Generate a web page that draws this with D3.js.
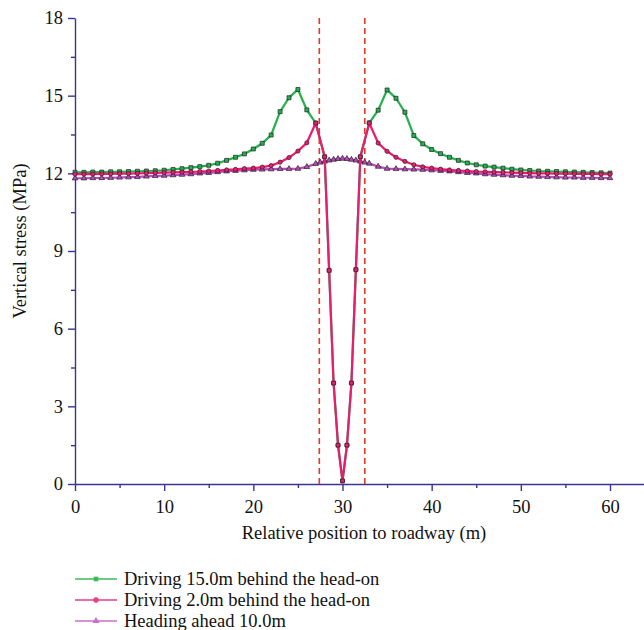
<!DOCTYPE html>
<html lang="en">
<head>
  <meta charset="UTF-8">
  <title>Vertical stress vs relative position</title>
  <script src="https://d3js.org/d3.v7.min.js"></script>
  <style>
    body { margin: 0; background: #fff; }
    svg { font-family: "Liberation Serif", "DejaVu Serif", serif; }
    .axis path, .axis line { stroke: #3b3494; stroke-width: 1.4px; }
    .axis text { font-size: 18.5px; fill: #111; font-family: "Liberation Serif", serif; }
    .title { font-size: 18.5px; fill: #111; }
    .legend text { font-size: 18.5px; fill: #111; }
  </style>
</head>
<body>
  <svg width="644" height="630"></svg>
  <script>
    // positions (m) and vertical stress (MPa)
    const posDriving = [0,1,2,3,4,5,6,7,8,9,10,11,12,13,14,15,16,17,18,19,20,21,22,23,24,25,26,27,28,28.5,29,29.5,30,30.5,31,31.5,32,33,34,35,36,37,38,39,40,41,42,43,44,45,46,47,48,49,50,51,52,53,54,55,56,57,58,59,60];
    const driving15 = [12.04,12.04,12.05,12.05,12.06,12.06,12.07,12.08,12.09,12.10,12.12,12.15,12.18,12.22,12.26,12.31,12.39,12.50,12.62,12.75,12.94,13.16,13.48,14.38,14.92,15.24,14.45,13.94,12.64,8.25,3.90,1.50,0.12,1.50,3.90,8.28,12.64,13.95,14.44,15.22,14.90,14.36,13.46,13.14,12.92,12.76,12.62,12.50,12.40,12.33,12.28,12.24,12.20,12.16,12.13,12.11,12.09,12.08,12.07,12.06,12.05,12.04,12.03,12.02,12.01];
    const driving2 = [11.97,11.97,11.97,11.98,11.98,11.99,11.99,12.00,12.01,12.02,12.03,12.04,12.05,12.06,12.07,12.09,12.11,12.13,12.15,12.18,12.20,12.24,12.30,12.43,12.61,12.86,13.18,13.94,12.64,8.25,3.90,1.50,0.12,1.50,3.90,8.28,12.64,13.94,13.17,12.85,12.62,12.46,12.33,12.25,12.20,12.16,12.13,12.11,12.09,12.07,12.06,12.05,12.04,12.03,12.02,12.01,12.00,12.00,11.99,11.99,11.98,11.98,11.98,11.97,11.97];
    const posHeading = [0,1,2,3,4,5,6,7,8,9,10,11,12,13,14,15,16,17,18,19,20,21,22,23,24,25,26,27,27.5,28,28.5,29,29.5,30,30.5,31,31.5,32,32.5,33,34,35,36,37,38,39,40,41,42,43,44,45,46,47,48,49,50,51,52,53,54,55,56,57,58,59,60];
    const heading10 = [11.81,11.81,11.82,11.82,11.83,11.84,11.85,11.86,11.88,11.90,11.91,11.93,11.95,11.97,12.00,12.02,12.05,12.08,12.10,12.12,12.14,12.15,12.16,12.17,12.17,12.18,12.25,12.37,12.42,12.46,12.50,12.53,12.56,12.57,12.56,12.53,12.50,12.46,12.42,12.38,12.26,12.18,12.17,12.16,12.15,12.14,12.12,12.10,12.08,12.05,12.02,12.00,11.97,11.95,11.93,11.91,11.90,11.88,11.87,11.86,11.85,11.84,11.84,11.83,11.83,11.82,11.82];
    const roadwayEdges = [27.4, 32.5];
    const xTicks = [0, 10, 20, 30, 40, 50, 60];
    const xMinor = [5, 15, 25, 35, 45, 55];
    const yTicks = [0, 3, 6, 9, 12, 15, 18];
    const yMinor = [1.5, 4.5, 7.5, 10.5, 13.5, 16.5];
    const legendLabels = ["Driving 15.0m behind the head-on", "Driving 2.0m behind the head-on", "Heading ahead 10.0m"];

    const svg = d3.select("svg");
    const x = d3.scaleLinear().domain([0, 60]).range([75, 610]);
    const y = d3.scaleLinear().domain([0, 18]).range([484, 18]);
    const xAxisScale = x.copy().domain([0, x.invert(644)]).range([75, 644]);

    // axes
    svg.append("g").attr("class", "axis")
      .attr("transform", `translate(0,${y(0)})`)
      .call(d3.axisBottom(xAxisScale).tickValues(xTicks).tickSize(7).tickSizeOuter(0).tickPadding(9));
    svg.append("g").attr("class", "axis")
      .attr("transform", `translate(0,${y(0)})`)
      .call(d3.axisBottom(xAxisScale).tickValues(xMinor).tickSize(4).tickFormat("").tickSizeOuter(0))
      .select(".domain").remove();
    svg.append("g").attr("class", "axis")
      .attr("transform", `translate(${x(0)},0)`)
      .call(d3.axisLeft(y).tickValues(yTicks).tickSize(7).tickSizeOuter(0).tickPadding(5));
    svg.append("g").attr("class", "axis")
      .attr("transform", `translate(${x(0)},0)`)
      .call(d3.axisLeft(y).tickValues(yMinor).tickSize(4).tickFormat("").tickSizeOuter(0))
      .select(".domain").remove();

    svg.append("text").attr("class", "title")
      .attr("x", 364).attr("y", 539)
      .attr("text-anchor", "middle")
      .text("Relative position to roadway (m)");
    svg.append("text").attr("class", "title")
      .attr("transform", `translate(26,241) rotate(-90)`)
      .attr("text-anchor", "middle")
      .text("Vertical stress (MPa)");

    // roadway edges
    svg.selectAll(".edge").data(roadwayEdges).enter().append("line")
      .attr("x1", d => x(d)).attr("x2", d => x(d))
      .attr("y1", y(18)).attr("y2", y(0))
      .attr("stroke", "#e3392b").attr("stroke-width", 1.6)
      .attr("stroke-dasharray", "6,4");

    const series = [
      { xs: posDriving, ys: driving15, color: "#22b14c", legendColor: "#3dba5c", marker: d3.symbolSquare, size: 16 },
      { xs: posHeading, ys: heading10, color: "#b44db4", legendColor: "#cc6ec4", marker: d3.symbolTriangle, size: 14 },
      { xs: posDriving, ys: driving2, color: "#ec1b6e", legendColor: "#ec3b80", marker: d3.symbolCircle, size: 14 }
    ];

    const line = d3.line().x(d => x(d[0])).y(d => y(d[1]));

    series.forEach(s => {
      const pts = s.xs.map((v, i) => [v, s.ys[i]]);
      svg.append("path").datum(pts)
        .attr("fill", "none").attr("stroke", s.color)
        .attr("stroke-width", 2.2).attr("d", line);
      svg.append("g").selectAll("path").data(pts).enter().append("path")
        .attr("transform", d => `translate(${x(d[0])},${y(d[1])})`)
        .attr("d", d3.symbol().type(s.marker).size(s.size))
        .attr("fill", s.color).attr("stroke", "#2a1f2a").attr("stroke-width", 0.7);
    });

    // legend
    const legendOrder = [series[0], series[2], series[1]];
    const lg = svg.append("g").attr("class", "legend");
    legendOrder.forEach((s, i) => {
      const ly = 579 + i * 21;
      lg.append("line").attr("x1", 75).attr("x2", 117).attr("y1", ly).attr("y2", ly)
        .attr("stroke", s.legendColor).attr("stroke-width", 1.6);
      lg.append("path").attr("transform", `translate(96,${ly})`)
        .attr("d", d3.symbol().type(s.marker).size(22))
        .attr("fill", s.legendColor);
      lg.append("text").attr("x", 124).attr("y", ly + 5.5).text(legendLabels[i]);
    });
  </script>
</body>
</html>
